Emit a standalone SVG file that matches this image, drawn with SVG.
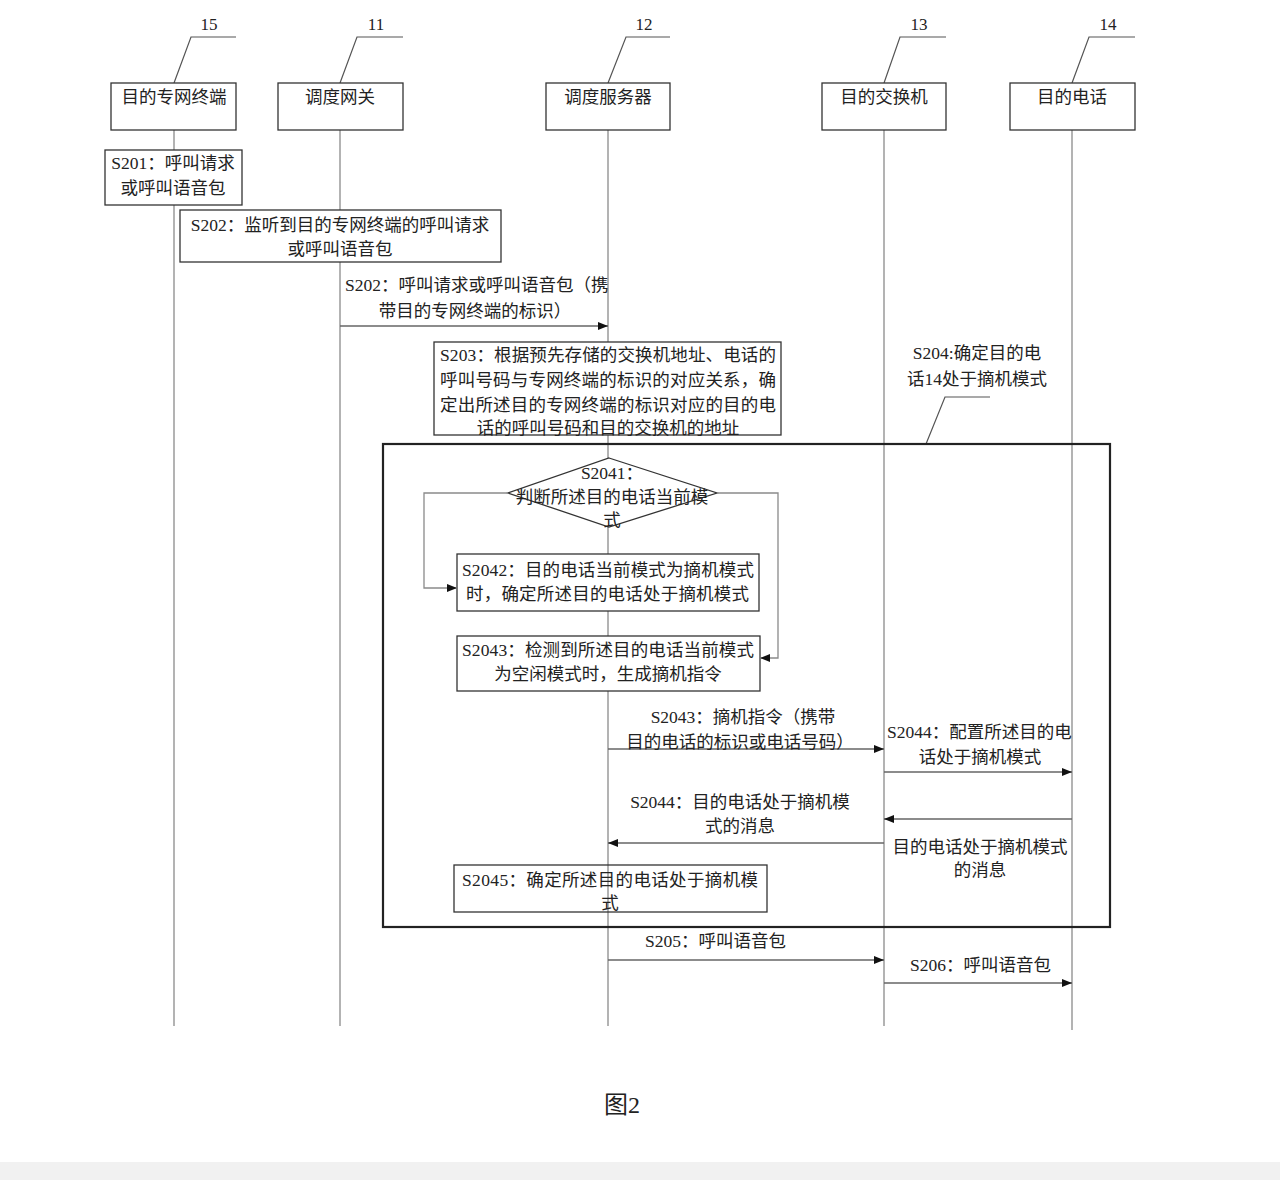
<svg xmlns="http://www.w3.org/2000/svg" width="1280" height="1180" viewBox="0 0 1280 1180">
<style>
text{font-family:"Liberation Serif","Noto Sans CJK SC",serif;font-size:17.5px;fill:#222}
.c{text-anchor:middle}
.num{font-size:17px}
.box{fill:#fff;stroke:#333;stroke-width:1.3}
.life{stroke:#8a8a8a;stroke-width:1.3;fill:none}
.lead{stroke:#555;stroke-width:1.2;fill:none}
.msg{stroke:#666;stroke-width:1.3;fill:none}
.loop{stroke:#8a8a8a;stroke-width:1.3;fill:none}
</style>
<defs>
<marker id="ah" viewBox="0 0 10 8" refX="10" refY="4" markerWidth="10" markerHeight="8" markerUnits="userSpaceOnUse" orient="auto">
<path d="M0,0 L10,4 L0,8 z" fill="#111"/>
</marker>
</defs>
<rect x="0" y="0" width="1280" height="1180" fill="#fff"/>
<rect x="0" y="1162" width="1280" height="18" fill="#f1f1f1"/>

<g id="lifelines">
<line class="life" x1="174" y1="130" x2="174" y2="1026"/>
<line class="life" x1="340" y1="130" x2="340" y2="1026"/>
<line class="life" x1="608" y1="130" x2="608" y2="1026"/>
<line class="life" x1="884" y1="130" x2="884" y2="1026"/>
<line class="life" x1="1072" y1="130" x2="1072" y2="1030"/>
</g>

<g id="node-15">
<polyline class="lead" points="174,83 191,37 236,37"/>
<text class="c num" x="209" y="30">15</text>
<rect class="box" x="111" y="83" width="125" height="47"/>
<text class="c" x="174" y="103">目的专网终端</text>
</g>
<g id="node-11">
<polyline class="lead" points="340,83 357,37 403,37"/>
<text class="c num" x="376" y="30">11</text>
<rect class="box" x="278" y="83" width="125" height="47"/>
<text class="c" x="340" y="103">调度网关</text>
</g>
<g id="node-12">
<polyline class="lead" points="608,83 626,37 670,37"/>
<text class="c num" x="644" y="30">12</text>
<rect class="box" x="546" y="83" width="124" height="47"/>
<text class="c" x="608" y="103">调度服务器</text>
</g>
<g id="node-13">
<polyline class="lead" points="884,83 900,37 946,37"/>
<text class="c num" x="919" y="30">13</text>
<rect class="box" x="822" y="83" width="124" height="47"/>
<text class="c" x="884" y="103">目的交换机</text>
</g>
<g id="node-14">
<polyline class="lead" points="1072,83 1089,37 1135,37"/>
<text class="c num" x="1108" y="30">14</text>
<rect class="box" x="1010" y="83" width="125" height="47"/>
<text class="c" x="1072" y="103">目的电话</text>
</g>

<g id="s201">
<rect class="box" x="105" y="150" width="137" height="55"/>
<text class="c" x="173" y="169">S201：呼叫请求</text>
<text class="c" x="173" y="194">或呼叫语音包</text>
</g>
<g id="s202-box">
<rect class="box" x="180" y="210" width="321" height="52"/>
<text class="c" x="340" y="231">S202：监听到目的专网终端的呼叫请求</text>
<text class="c" x="340" y="255">或呼叫语音包</text>
</g>

<g id="s203">
<rect class="box" x="434" y="342" width="347" height="93"/>
<text x="440" y="361" textLength="336" lengthAdjust="spacing">S203：根据预先存储的交换机地址、电话的</text>
<text x="440" y="386" textLength="336" lengthAdjust="spacing">呼叫号码与专网终端的标识的对应关系，确</text>
<text x="440" y="411" textLength="336" lengthAdjust="spacing">定出所述目的专网终端的标识对应的目的电</text>
<text class="c" x="608" y="434">话的呼叫号码和目的交换机的地址</text>
</g>

<g id="s204-label">
<text class="c" x="977" y="359">S204:确定目的电</text>
<text class="c" x="977" y="385">话14处于摘机模式</text>
<polyline class="lead" points="926,444 945,397 990,397"/>
</g>

<g id="frame">
<rect x="383" y="444" width="727" height="483" fill="none" stroke="#222" stroke-width="2.2"/>
</g>

<g id="s2041">
<polygon points="609,458 717,493 609,527 508,493" fill="#fff" stroke="#333" stroke-width="1.3"/>
<text class="c" x="612" y="479">S2041：</text>
<text class="c" x="612" y="503">判断所述目的电话当前模</text>
<text class="c" x="612" y="526">式</text>
</g>

<g id="s2042">
<rect class="box" x="457" y="554" width="302" height="57"/>
<text x="462" y="576" textLength="292" lengthAdjust="spacing">S2042：目的电话当前模式为摘机模式</text>
<text x="466" y="600" textLength="283" lengthAdjust="spacing">时，确定所述目的电话处于摘机模式</text>
</g>

<g id="s2043">
<rect class="box" x="457" y="636" width="303" height="55"/>
<text x="462" y="656" textLength="292" lengthAdjust="spacing">S2043：检测到所述目的电话当前模式</text>
<text class="c" x="608" y="680">为空闲模式时，生成摘机指令</text>
</g>

<g id="s2045">
<rect x="454" y="865" width="313" height="47" fill="none" stroke="#333" stroke-width="1.3"/>
<text x="462" y="886" textLength="296" lengthAdjust="spacing">S2045：确定所述目的电话处于摘机模</text>
<text class="c" x="610" y="909">式</text>
</g>

<g id="connectors">
<line class="msg" x1="340" y1="326" x2="608" y2="326" marker-end="url(#ah)"/>
<polyline class="loop" points="508,493 424,493 424,588 457,588" marker-end="url(#ah)"/>
<polyline class="loop" points="717,493 778,493 778,658 760,658" marker-end="url(#ah)"/>
<line class="msg" x1="608" y1="749" x2="884" y2="749" marker-end="url(#ah)" stroke="#333"/>
<line class="msg" x1="884" y1="772" x2="1072" y2="772" marker-end="url(#ah)"/>
<line class="msg" x1="1072" y1="819" x2="884" y2="819" marker-end="url(#ah)"/>
<line class="msg" x1="884" y1="843" x2="608" y2="843" marker-end="url(#ah)"/>
<line class="msg" x1="608" y1="960" x2="884" y2="960" marker-end="url(#ah)"/>
<line class="msg" x1="884" y1="983" x2="1072" y2="983" marker-end="url(#ah)"/>
</g>

<g id="labels">
<text x="345" y="291">S202：呼叫请求或呼叫语音包（携</text>
<text class="c" x="475" y="317">带目的专网终端的标识）</text>
<text class="c" x="743" y="723">S2043：摘机指令（携带</text>
<text class="c" x="740" y="748">目的电话的标识或电话号码）</text>
<text x="887" y="738">S2044：配置所述目的电</text>
<text class="c" x="980" y="763">话处于摘机模式</text>
<text class="c" x="740" y="808">S2044：目的电话处于摘机模</text>
<text class="c" x="740" y="832">式的消息</text>
<text class="c" x="980" y="853">目的电话处于摘机模式</text>
<text class="c" x="980" y="876">的消息</text>
<text x="645" y="947">S205：呼叫语音包</text>
<text x="910" y="971">S206：呼叫语音包</text>
</g>

<text class="c" x="622" y="1113" style="font-size:24px">图2</text>
</svg>
